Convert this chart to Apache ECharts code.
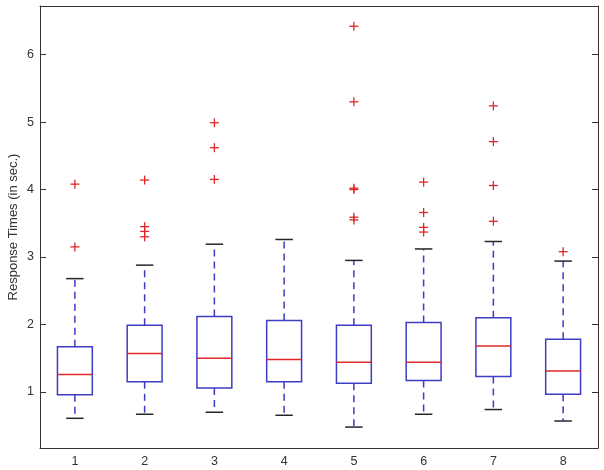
<!DOCTYPE html>
<html>
<head>
<meta charset="utf-8">
<script src="https://cdn.jsdelivr.net/npm/echarts@6.0.0/dist/echarts.min.js"></script>
<style>
  html, body { margin: 0; padding: 0; background: #fff; }
  #main { width: 604px; height: 470px; }
</style>
</head>
<body>
<div id="main"></div>
<script>
// values
var categories = ['1', '2', '3', '4', '5', '6', '7', '8'];
var lowerWhisker = [0.61, 0.67, 0.70, 0.655, 0.48, 0.67, 0.74, 0.57];
var q1 = [0.96, 1.15, 1.06, 1.15, 1.13, 1.17, 1.23, 0.965];
var median = [1.26, 1.57, 1.50, 1.48, 1.44, 1.44, 1.68, 1.31];
var q3 = [1.67, 1.99, 2.12, 2.06, 1.99, 2.03, 2.10, 1.78];
var upperWhisker = [2.68, 2.88, 3.19, 3.26, 2.95, 3.12, 3.23, 2.94];
var outliers = [
    [4.08, 3.15],
    [4.14, 3.45, 3.38, 3.30],
    [4.99, 4.62, 4.15],
    [],
    [6.42, 5.30, 4.02, 4.00, 3.59, 3.55],
    [4.11, 3.66, 3.44, 3.37],
    [5.24, 4.71, 4.06, 3.53],
    [3.08]
];
var yTicks = [1, 2, 3, 4, 5, 6];
var yMin = 0.17, yMax = 6.72;

var blue = '#3c3cc4', red = '#e02828', capColor = '#262626', axisColor = '#333';

var boxData = categories.map(function (c, i) {
    return [i, lowerWhisker[i], q1[i], median[i], q3[i], upperWhisker[i]];
});
var outlierData = [];
outliers.forEach(function (list, i) {
    list.forEach(function (v) { outlierData.push([i, v]); });
});

function renderBox(params, api) {
    var i = api.value(0);
    var lo = api.coord([i, api.value(1)]);
    var b1 = api.coord([i, api.value(2)]);
    var md = api.coord([i, api.value(3)]);
    var b3 = api.coord([i, api.value(4)]);
    var hi = api.coord([i, api.value(5)]);
    var bw = api.size([1, 0])[0];
    var half = bw * 0.25, capHalf = bw * 0.125;
    var cx = lo[0];
    var dash = { stroke: blue, lineWidth: 1.5, lineDash: [7, 5] };
    return {
        type: 'group',
        children: [
            { type: 'line', shape: { x1: cx, y1: b1[1], x2: cx, y2: lo[1] }, style: dash },
            { type: 'line', shape: { x1: cx, y1: b3[1], x2: cx, y2: hi[1] }, style: dash },
            { type: 'line', shape: { x1: cx - capHalf, y1: lo[1], x2: cx + capHalf, y2: lo[1] }, style: { stroke: capColor, lineWidth: 1.5 } },
            { type: 'line', shape: { x1: cx - capHalf, y1: hi[1], x2: cx + capHalf, y2: hi[1] }, style: { stroke: capColor, lineWidth: 1.5 } },
            { type: 'rect', shape: { x: cx - half, y: b3[1], width: half * 2, height: b1[1] - b3[1] },
              style: { fill: 'none', stroke: blue, lineWidth: 1.5 } },
            { type: 'line', shape: { x1: cx - half, y1: md[1], x2: cx + half, y2: md[1] }, style: { stroke: red, lineWidth: 1.5 } }
        ]
    };
}

function renderPlus(params, api) {
    var p = api.coord([api.value(0), api.value(1)]);
    var s = 4.5;
    return {
        type: 'group',
        children: [
            { type: 'line', shape: { x1: p[0] - s, y1: p[1], x2: p[0] + s, y2: p[1] }, style: { stroke: red, lineWidth: 1.3 } },
            { type: 'line', shape: { x1: p[0], y1: p[1] - s, x2: p[0], y2: p[1] + s }, style: { stroke: red, lineWidth: 1.3 } }
        ]
    };
}

var font = { fontFamily: 'Arial, "Liberation Sans", sans-serif', fontSize: 12.5, color: '#333' };

var myChart = echarts.init(document.getElementById('main'));
var option = {
    animation: false,
    backgroundColor: '#fff',
    grid: { left: 40, right: 6, top: 6, bottom: 22, containLabel: false, outerBoundsMode: 'none' },
    xAxis: [
        {
            type: 'category', data: categories, position: 'bottom',
            axisLine: { lineStyle: { color: axisColor, width: 1 } },
            axisTick: { inside: true, alignWithLabel: true, length: 6, lineStyle: { color: axisColor } },
            axisLabel: Object.assign({ margin: 7 }, font),
            splitLine: { show: false }
        },
        {
            type: 'category', data: categories, position: 'top',
            axisLine: { lineStyle: { color: axisColor, width: 1 } },
            axisTick: { inside: true, alignWithLabel: true, length: 6, lineStyle: { color: axisColor } },
            axisLabel: { show: false },
            splitLine: { show: false }
        }
    ],
    yAxis: [
        {
            type: 'value', min: yMin, max: yMax, position: 'left',
            name: 'Response Times (in sec.)', nameLocation: 'middle', nameGap: 20,
            nameMoveOverlap: false,
            nameTextStyle: Object.assign({}, font, { fontSize: 13 }),
            axisLine: { show: true, lineStyle: { color: axisColor, width: 1 } },
            axisTick: { show: true, inside: true, length: 6, customValues: yTicks, lineStyle: { color: axisColor } },
            axisLabel: Object.assign({ margin: 6, customValues: yTicks }, font),
            splitLine: { show: false }
        },
        {
            type: 'value', min: yMin, max: yMax, position: 'right',
            axisLine: { show: true, lineStyle: { color: axisColor, width: 1 } },
            axisTick: { show: true, inside: true, length: 6, customValues: yTicks, lineStyle: { color: axisColor } },
            axisLabel: { show: false },
            splitLine: { show: false }
        }
    ],
    series: [
        {
            type: 'custom', name: 'box', renderItem: renderBox,
            xAxisIndex: 0, yAxisIndex: 0,
            encode: { x: 0, y: [1, 2, 3, 4, 5] },
            data: boxData
        },
        {
            type: 'custom', name: 'outliers', renderItem: renderPlus,
            xAxisIndex: 0, yAxisIndex: 0,
            encode: { x: 0, y: 1 },
            data: outlierData
        }
    ]
};
myChart.setOption(option);
</script>
</body>
</html>
